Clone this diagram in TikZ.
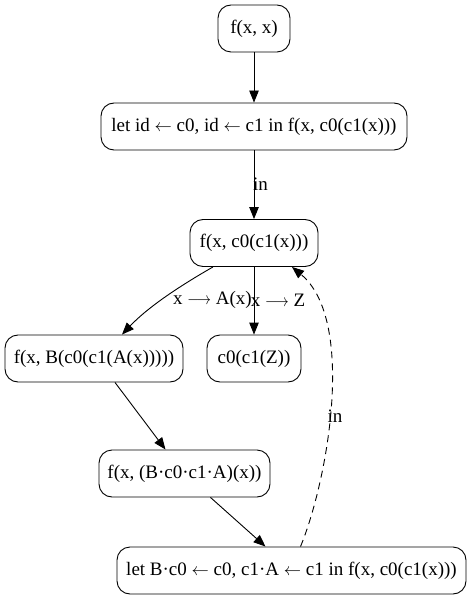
\documentclass[tikz,border=0pt]{standalone}
\usepackage{fontspec}
\usepackage{graphicx}
\setmainfont{Liberation Serif}
\usetikzlibrary{arrows.meta}
\newcommand{\la}{\ensuremath{\leftarrow}}
\newcommand{\ra}{\ensuremath{\mathrel{\scalebox{0.85}[1]{$\longrightarrow$}}}}
\tikzset{
  box/.style={draw, line width=0.9pt, rounded corners=13pt, minimum height=47pt, inner xsep=4pt, font=\fontsize{19pt}{22pt}\selectfont},
  lbl/.style={inner sep=0pt, font=\fontsize{19pt}{22pt}\selectfont},
  edge/.style={draw, line width=0.9pt, -{Triangle[length=12pt,width=9.5pt]}}
}
\begin{document}
\begin{tikzpicture}[x=1pt,y=-1pt]
\useasboundingbox (0,0) rectangle (471,601);
\node[box, minimum width=72pt] (n1) at (254,28.5) {f(x, x)};
\node[box, minimum width=306pt] (n2) at (254,126.5) {let id \la{} c0, id \la{} c1 in f(x, c0(c1(x)))};
\node[box, minimum width=128pt] (n3) at (254,243) {f(x, c0(c1(x)))};
\node[box, minimum width=178pt] (n4) at (94,358.5) {f(x, B(c0(c1(A(x)))))};
\node[box, minimum width=94pt] (n5) at (254,358.5) {c0(c1(Z))};
\node[box, minimum width=171pt] (n6) at (184.5,473.5) {f(x, (B·c0·c1·A)(x))};
\node[box, minimum width=349pt] (n7) at (291.5,570.5) {let B·c0 \la{} c0, c1·A \la{} c1 in f(x, c0(c1(x)))};
\draw[edge] (n1) -- (n2);
\draw[edge] (n2) -- (n3);
\draw[edge] ([xshift=-41pt]n3.south) .. controls (185,283) and (150,305) .. ([xshift=28pt]n4.north);
\draw[edge] (n3) -- (n5);
\draw[edge] ([xshift=21pt]n4.south) -- ([xshift=-19pt]n6.north);
\draw[edge] ([xshift=26pt]n6.south) -- ([xshift=-26pt]n7.north);
\draw[edge, dashed, dash pattern=on 7pt off 5pt] ([xshift=9pt]n7.north) .. controls (328,480) and (356,320) .. ([xshift=38pt]n3.south);
\node[lbl] (l1) at (260.5,184) {in};
\node[lbl] (l2) at (212.5,300) {x \ra{} A(x)};
\node[lbl] (l3) at (278,300) {x \ra{} Z};
\node[lbl] (l4) at (335,416) {in};
\end{tikzpicture}
\end{document}
